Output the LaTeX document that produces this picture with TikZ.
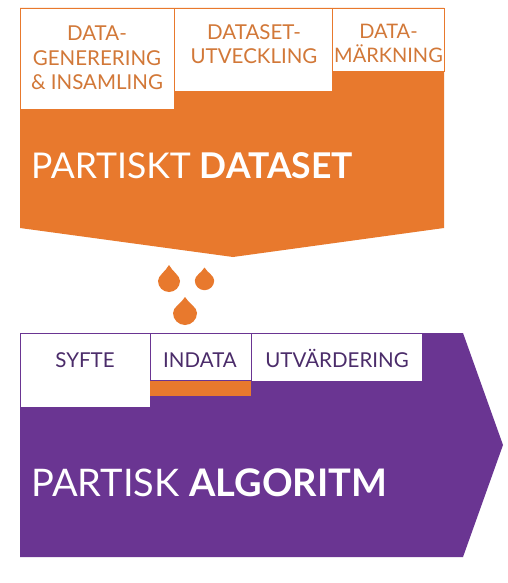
\documentclass[tikz,border=0pt]{standalone}
\usepackage{fontspec}
\setmainfont{Lato}
\definecolor{orfill}{HTML}{E8792D}
\definecolor{ortext}{HTML}{D27838}
\definecolor{pufill}{HTML}{6A3592}
\definecolor{putext}{HTML}{4B2C6A}
\newcommand\mydrop[4]{%
  \fill[orfill] (#1,#2-#4) .. controls (#1+0.3*#3,#2-0.6*#4) and (#1+#3,#2-0.5*#3) .. (#1+#3,#2)
    arc[start angle=0,end angle=180,radius=#3]
    .. controls (#1-#3,#2-0.5*#3) and (#1-0.3*#3,#2-0.6*#4) .. cycle;}
\begin{document}
\begin{tikzpicture}[x=1pt,y=-1pt,
  obox/.style={draw=orfill,fill=white,line width=0.8pt,inner sep=0pt,anchor=north west},
  pbox/.style={draw=pufill,fill=white,line width=0.8pt,inner sep=0pt,anchor=north west},
  otxt/.style={text=ortext,font=\fontsize{20.5}{24.5}\selectfont,align=center,inner sep=0pt,anchor=base},
  ptxt/.style={text=putext,font=\fontsize{20.5}{24}\selectfont,inner sep=0pt,anchor=base},
  bigtxt/.style={text=white,inner sep=0pt,anchor=base west}]
\useasboundingbox (0,0) rectangle (508,583);
\fill[white] (0,0) rectangle (508,583);
% orange dataset shape
\fill[orfill] (20,8) -- (444,8) -- (444,228) -- (233,257) -- (20,228) -- cycle;
\node[obox,minimum width=154pt,minimum height=101pt] (b1) at (20,8) {};
\node[obox,minimum width=158pt,minimum height=83pt] (b2) at (174,8) {};
\node[obox,minimum width=112pt,minimum height=63pt] (b3) at (332,8) {};
\node[otxt] (t1) at (97,90) {DATA-\\GENERERING\\\& INSAMLING};
\node[otxt] (t2) at (254,64) {DATASET-\\UTVECKLING};
\node[otxt,font=\fontsize{20}{24.5}\selectfont] (t3) at (388.5,63) {DATA-\\MÄRKNING};
\node[bigtxt,font=\fontsize{35.5}{40}\selectfont] (pd) at (31,178) {PARTISKT \textbf{DATASET}};
% drops
\mydrop{169}{281}{11}{16}
\mydrop{204.5}{280.5}{9.7}{13}
\mydrop{185}{313}{12}{16}
% purple algorithm shape
\fill[pufill] (20,333) -- (463,333) -- (503,445) -- (463,557) -- (20,557) -- cycle;
\node[pbox,minimum width=130pt,minimum height=74pt] (s1) at (20,333) {};
\fill[orfill] (150,379) rectangle (251,396);
\node[pbox,minimum width=101pt,minimum height=47pt] (s2) at (150,333) {};
\node[pbox,minimum width=171pt,minimum height=48pt] (s3) at (251,333) {};
\node[ptxt] (u1) at (85,367) {SYFTE};
\node[ptxt] (u2) at (200,367) {INDATA};
\node[ptxt] (u3) at (337,367) {UTVÄRDERING};
\node[bigtxt,font=\fontsize{38}{42}\selectfont] (pa) at (31,496) {PARTISK \textbf{ALGORITM}};
\end{tikzpicture}
\end{document}
